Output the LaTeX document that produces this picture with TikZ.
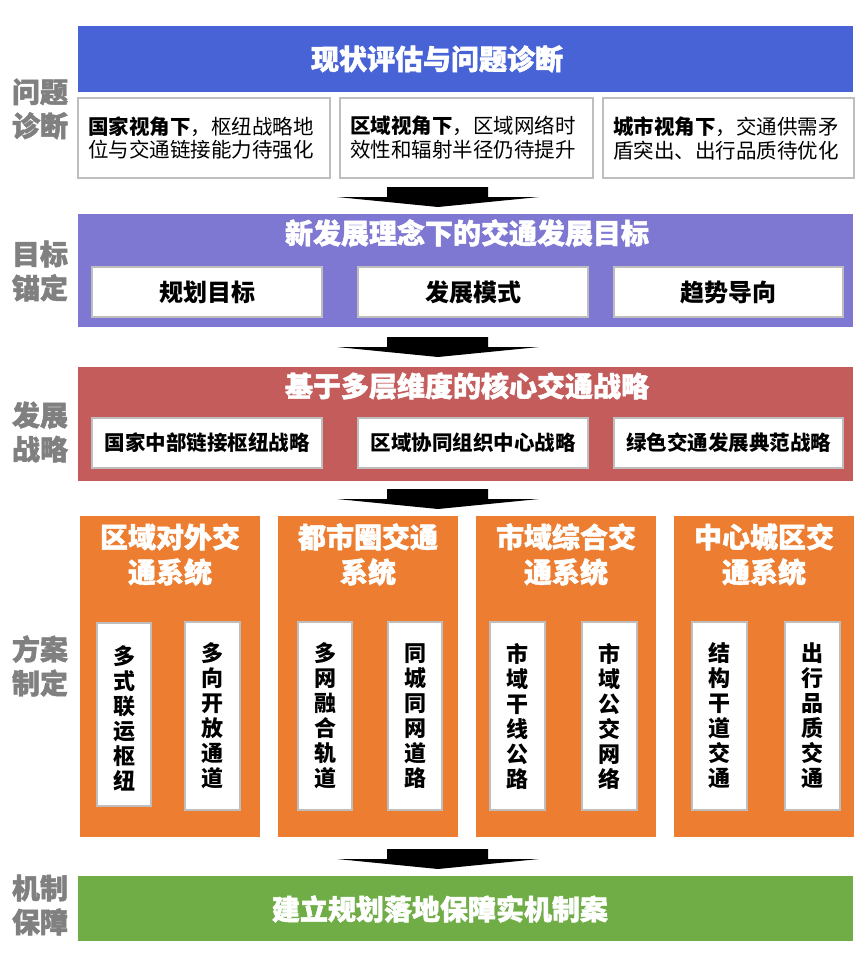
\documentclass[tikz,border=0pt]{standalone}
\usepackage{fontspec}
\setmainfont{Noto Sans CJK SC}
\newfontfamily\heavyfont{Noto Sans CJK SC}[BoldFeatures={FakeBold=1.6}]
\definecolor{blueC}{RGB}{72,99,214}
\definecolor{purpleC}{RGB}{127,120,211}
\definecolor{redC}{RGB}{196,92,92}
\definecolor{orangeC}{RGB}{237,125,49}
\definecolor{greenC}{RGB}{112,173,71}
\definecolor{labelC}{RGB}{128,128,128}
\definecolor{borderC}{RGB}{190,190,190}
\tikzset{
  panel/.style={draw=none, inner sep=0pt, outer sep=0pt},
  wbox/.style={draw=borderC, line width=2pt, fill=white, inner sep=0pt, outer sep=0pt},
  ttl/.style={text=white, inner sep=0pt, font=\heavyfont\bfseries\fontsize{28}{35}\selectfont, align=center},
  lbl/.style={text=labelC, inner sep=0pt, font=\heavyfont\bfseries\fontsize{28}{34}\selectfont, align=center},
  body/.style={inner sep=0pt, anchor=west, align=left, font=\fontsize{20.5}{24}\selectfont},
  itm/.style={inner sep=0pt, font=\bfseries\fontsize{24}{28}\selectfont},
  itms/.style={inner sep=0pt, font=\bfseries\fontsize{20.5}{24}\selectfont},
  vtxt/.style={inner sep=0pt, align=center, font=\bfseries\fontsize{22}{25}\selectfont},
  pics/blockarrow/.style={code={
    \fill[black] (-51,0) -- (50,0) -- (50,10) -- (101,10) -- (0,20) -- (-101,10) -- (-51,10) -- cycle;}}
}
\begin{document}
\begin{tikzpicture}[x=1pt,y=-1pt]
\useasboundingbox (0,0) rectangle (865,959);
\fill[white] (0,0) rectangle (865,959);

% ---------- Row 1: blue ----------
\node[panel, fill=blueC, minimum width=775pt, minimum height=66pt] (blue) at (465.5,59) {};
\node[ttl] (blueT) at (437,59) {现状评估与问题诊断};
\node[wbox, minimum width=252pt, minimum height=80pt] (d1) at (204,138) {};
\node[wbox, minimum width=253pt, minimum height=80pt] (d2) at (466.5,138) {};
\node[wbox, minimum width=251pt, minimum height=80pt] (d3) at (728.5,138) {};
\node[body] (d1t) at (88,138) {{\bfseries 国家视角下}，枢纽战略地\\位与交通链接能力待强化};
\node[body] (d2t) at (350,138) {{\bfseries 区域视角下}，区域网络时\\效性和辐射半径仍待提升};
\node[body] (d3t) at (613,138) {{\bfseries 城市视角下}，交通供需矛\\盾突出、出行品质待优化};
\node[lbl] (L1) at (40,109) {问题\\诊断};

\pic at (438,187) {blockarrow};

% ---------- Row 2: purple ----------
\node[panel, fill=purpleC, minimum width=775pt, minimum height=113pt] (purple) at (465.5,270.5) {};
\node[ttl] (purpleT) at (467,233) {新发展理念下的交通发展目标};
\node[wbox, minimum width=230pt, minimum height=50pt] (g1) at (207,292) {};
\node[wbox, minimum width=230pt, minimum height=50pt] (g2) at (473,292) {};
\node[wbox, minimum width=229pt, minimum height=50pt] (g3) at (728.5,292) {};
\node[itm] at (g1) {规划目标};
\node[itm] at (g2) {发展模式};
\node[itm] at (g3) {趋势导向};
\node[lbl] (L2) at (40,271) {目标\\锚定};

\pic at (438,337) {blockarrow};

% ---------- Row 3: red ----------
\node[panel, fill=redC, minimum width=775pt, minimum height=114pt] (red) at (465.5,424) {};
\node[ttl] (redT) at (467,386) {基于多层维度的核心交通战略};
\node[wbox, minimum width=230pt, minimum height=50pt] (s1) at (207,443) {};
\node[wbox, minimum width=230pt, minimum height=50pt] (s2) at (473,443) {};
\node[wbox, minimum width=229pt, minimum height=50pt] (s3) at (728.5,443) {};
\node[itms] at (s1) {国家中部链接枢纽战略};
\node[itms] at (s2) {区域协同组织中心战略};
\node[itms] at (s3) {绿色交通发展典范战略};
\node[lbl] (L3) at (40,432) {发展\\战略};

\pic at (438,489) {blockarrow};

% ---------- Row 4: orange ----------
\node[panel, fill=orangeC, minimum width=180pt, minimum height=321pt] (o1) at (170,676.5) {};
\node[panel, fill=orangeC, minimum width=180pt, minimum height=321pt] (o2) at (368,676.5) {};
\node[panel, fill=orangeC, minimum width=180pt, minimum height=321pt] (o3) at (566,676.5) {};
\node[panel, fill=orangeC, minimum width=180pt, minimum height=321pt] (o4) at (764,676.5) {};
\node[ttl] at (170,554.5) {区域对外交\\通系统};
\node[ttl] at (368,554.5) {都市圈交通\\系统};
\node[ttl] at (566,554.5) {市域综合交\\通系统};
\node[ttl] at (764,554.5) {中心城区交\\通系统};

\node[wbox, minimum width=54pt, minimum height=183pt] (v1) at (124,714) {};
\node[wbox, minimum width=55pt, minimum height=188pt] (v2) at (212.5,716) {};
\node[wbox, minimum width=54pt, minimum height=188pt] (v3) at (325,716) {};
\node[wbox, minimum width=54pt, minimum height=188pt] (v4) at (415,716) {};
\node[wbox, minimum width=55pt, minimum height=188pt] (v5) at (517.5,716) {};
\node[wbox, minimum width=55pt, minimum height=188pt] (v6) at (609.5,716) {};
\node[wbox, minimum width=55pt, minimum height=188pt] (v7) at (719.5,716) {};
\node[wbox, minimum width=55pt, minimum height=188pt] (v8) at (812.5,716) {};
\node[vtxt] at ([yshift=-4pt]v1.center) {多\\式\\联\\运\\枢\\纽};
\node[vtxt] at (v2) {多\\向\\开\\放\\通\\道};
\node[vtxt] at (v3) {多\\网\\融\\合\\轨\\道};
\node[vtxt] at (v4) {同\\城\\同\\网\\道\\路};
\node[vtxt] at (v5) {市\\域\\干\\线\\公\\路};
\node[vtxt] at (v6) {市\\域\\公\\交\\网\\络};
\node[vtxt] at (v7) {结\\构\\干\\道\\交\\通};
\node[vtxt] at (v8) {出\\行\\品\\质\\交\\通};
\node[lbl] (L4) at (40,666) {方案\\制定};

\pic at (438,849) {blockarrow};

% ---------- Row 5: green ----------
\node[panel, fill=greenC, minimum width=775pt, minimum height=65pt] (green) at (465.5,908.5) {};
\node[ttl] (greenT) at (440,909) {建立规划落地保障实机制案};
\node[lbl] (L5) at (40,905) {机制\\保障};
\end{tikzpicture}
\end{document}
